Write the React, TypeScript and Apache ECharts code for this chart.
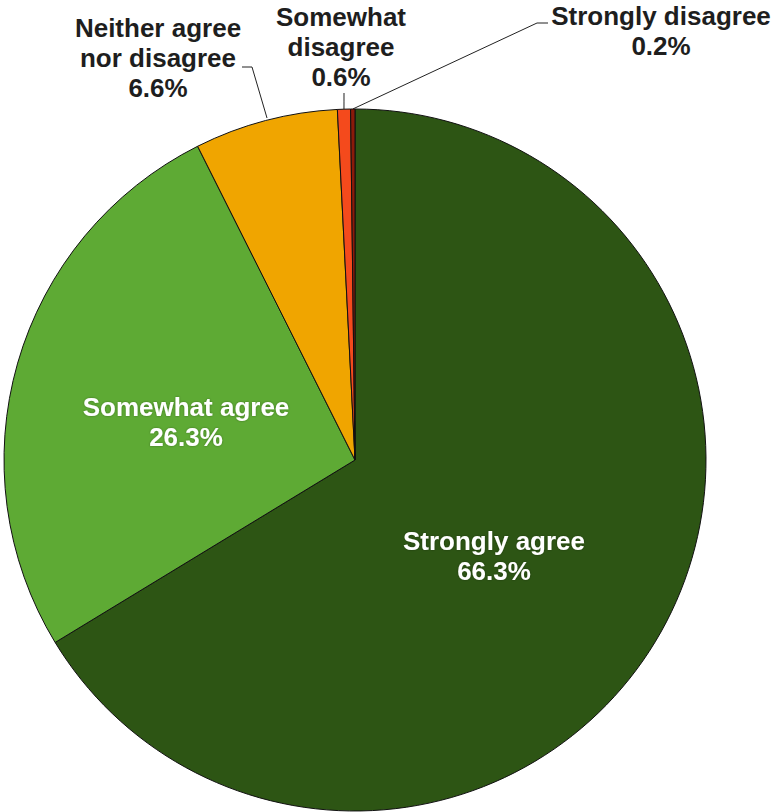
import React, { useEffect, useRef } from "react";
import * as echarts from "echarts";

const categories = [
  "Strongly agree",
  "Somewhat agree",
  "Neither agree nor disagree",
  "Somewhat disagree",
  "Strongly disagree",
];
const labelTexts = [
  "Strongly agree",
  "Somewhat agree",
  "Neither agree\nnor disagree",
  "Somewhat\ndisagree",
  "Strongly disagree",
];
const values = [66.3, 26.3, 6.6, 0.6, 0.2];
const colors = ["#2d5514", "#5eaa34", "#f0a500", "#f44a1c", "#8b1a0a"];

// label placement (layout only)
const labelLayoutCfg: Record<number, { x: number; y: number; mid?: number[]; end?: number[]; start?: number[] }> = {
  0: { x: 494, y: 556 },
  1: { x: 186, y: 422 },
  2: { x: 158, y: 58, start: [267, 118], mid: [252, 67], end: [242, 67] },
  3: { x: 341, y: 47, end: [344, 93] },
  4: { x: 661, y: 31, mid: [537, 23], end: [548, 23] },
};

export default function App() {
  const ref = useRef<HTMLDivElement>(null);
  useEffect(() => {
    if (!ref.current) return;
    const chart = echarts.init(ref.current, undefined, { renderer: "svg" });
    const font = "'Liberation Sans', Arial, Helvetica, sans-serif";
    chart.setOption({
      animation: false,
      backgroundColor: "#ffffff",
      series: [
        {
          type: "pie",
          center: [355, 460],
          radius: 351,
          startAngle: 90,
          clockwise: true,
          avoidLabelOverlap: false,
          itemStyle: { borderColor: "#111", borderWidth: 1 },
          label: {
            fontFamily: font,
            fontWeight: "bold",
            fontSize: 26,
            lineHeight: 30,
            align: "center",
            formatter: (p: any) => `${labelTexts[p.dataIndex]}\n${p.value.toFixed(1)}%`,
          },
          labelLine: { lineStyle: { color: "#222", width: 1 } },
          labelLayout: (params: any) => {
            const cfg = labelLayoutCfg[params.dataIndex];
            if (!cfg) return {};
            const out: any = { x: cfg.x, y: cfg.y, align: "center", verticalAlign: "middle" };
            if (cfg.end) {
              const p0 = cfg.start || (params.labelLinePoints ? params.labelLinePoints[0] : [355, 110]);
              const mid = cfg.mid || [(p0[0] + cfg.end[0]) / 2, (p0[1] + cfg.end[1]) / 2];
              out.labelLinePoints = [p0, mid, cfg.end];
            }
            return out;
          },
          data: categories.map((name, i) => {
            const inside = i < 2;
            return {
              name,
              value: values[i],
              itemStyle: { color: colors[i] },
              label: inside
                ? {
                    show: true,
                    position: "inside",
                    color: "#ffffff",
                    textShadowColor: "rgba(0,0,0,0.35)",
                    textShadowBlur: 2,
                  }
                : { show: true, position: "outside", color: "#1e1e1e" },
              labelLine: { show: !inside, length: 10, length2: 10 },
            };
          }),
        },
      ],
    });
    return () => chart.dispose();
  }, []);
  return (
    <div
      ref={ref}
      style={{ position: "absolute", left: 0, top: 0, width: 774, height: 812 }}
    />
  );
}
